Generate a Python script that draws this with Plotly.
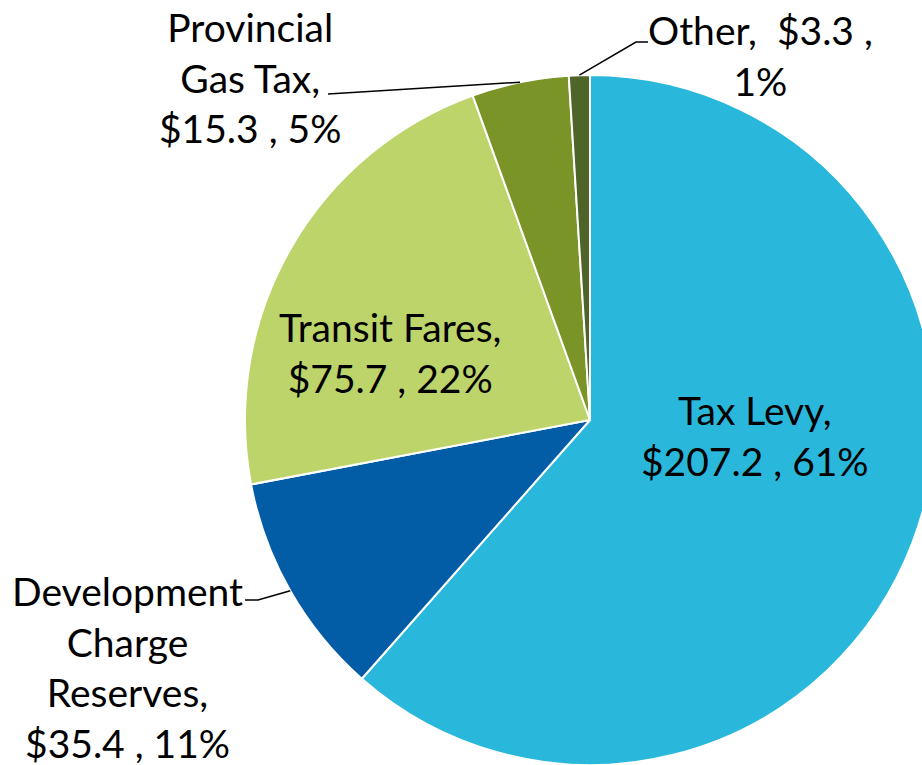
import math
import plotly.graph_objects as go

# ---- data ----
categories = ["Tax Levy", "Development Charge Reserves", "Transit Fares", "Provincial Gas Tax", "Other"]
values = [207.2, 35.4, 75.7, 15.3, 3.3]
percents = ["61%", "11%", "22%", "5%", "1%"]
label_lines = [
    ["Tax Levy,", "$207.2 , 61%"],
    ["Development", "Charge", "Reserves,", "$35.4 , 11%"],
    ["Transit Fares,", "$75.7 , 22%"],
    ["Provincial", "Gas Tax,", "$15.3 , 5%"],
    ["Other,  $3.3 ,", "1%"],
]
colors = ["#29B8DB", "#025CA6", "#BDD46B", "#7A9427", "#4E6428"]

# ---- layout geometry (pixels) ----
W, H = 940, 772
CX, CY, R = 590, 420, 345
FONT = dict(family="Lato", size=39, color="#000000")


def px(x):
    return x / W


def py(y):
    return 1 - y / H


fig = go.Figure(go.Pie(
    labels=categories,
    values=values,
    sort=False,
    direction="clockwise",
    rotation=0,
    textinfo="none",
    hoverinfo="label+value+percent",
    marker=dict(colors=colors, line=dict(color="#FFFFFF", width=2)),
    domain=dict(x=[px(CX - R), px(CX + R)], y=[py(CY + R), py(CY - R)]),
    showlegend=False,
))

# mid-angle anchors from the data
total = sum(values)
cum = 0
anchors = []
for v in values:
    mid = (cum + v / 2) / total * 2 * math.pi
    anchors.append((CX + R * math.sin(mid), CY - R * math.cos(mid)))
    cum += v

annotations = []
shapes = []

# label placements (pixel centres of text blocks)
label_pos = [
    (755, 435, "center"),
    (127, 667, "center"),
    (390, 352, "center"),
    (250, 77, "center"),
    (760, 55, "center"),
]
for i, lines in enumerate(label_lines):
    x, y, al = label_pos[i]
    annotations.append(dict(
        x=px(x), y=py(y), xref="paper", yref="paper",
        text="<br>".join(lines), showarrow=False, font=FONT,
        align=al, xanchor="center", yanchor="middle",
    ))

# leader lines for outside labels
def leader(points):
    path = "M " + " L ".join(f"{px(a)},{py(b)}" for a, b in points)
    shapes.append(dict(type="path", xref="paper", yref="paper", path=path,
                       line=dict(color="#000000", width=1.5)))

ax, ay = anchors[1]
leader([(245, 600), (258, 600), (ax, ay)])
ax, ay = anchors[3]
leader([(328, 94), (ax, ay)])
ax, ay = anchors[4]
leader([(ax, ay), (636, 42), (648, 42)])

fig.update_layout(
    width=W, height=H,
    margin=dict(l=0, r=0, t=0, b=0),
    paper_bgcolor="#FFFFFF", plot_bgcolor="#FFFFFF",
    annotations=annotations, shapes=shapes,
)

fig.write_html(
    "out.html",
    config={"displayModeBar": False},
    post_script="document.body.style.margin='0';document.body.style.overflow='hidden';",
)
